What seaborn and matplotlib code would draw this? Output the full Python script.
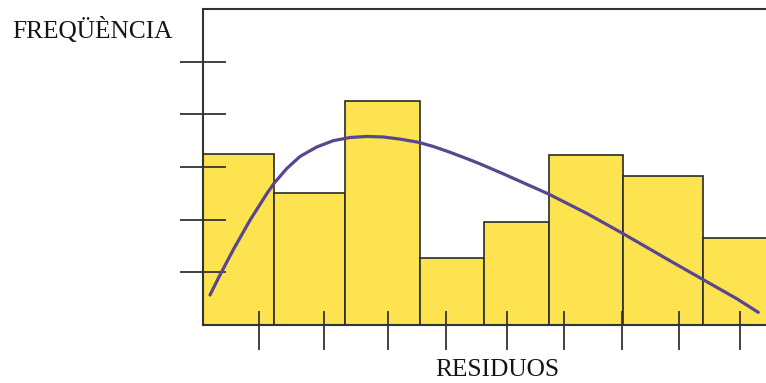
import matplotlib
matplotlib.use("Agg")
import matplotlib.pyplot as plt
import seaborn as sns
import pandas as pd

# Histogram of residuals (class edges and frequencies)
bin_edges = [0.0, 7.1, 14.2, 21.7, 28.1, 34.6, 42.0, 50.0, 57.0]
frequencies = [3.24, 2.50, 4.25, 1.28, 1.96, 3.23, 2.83, 1.65]

# Fitted density curve
curve_x = [0.73, 1.73, 3.06, 4.73, 6.40, 7.13, 8.40, 9.73, 11.40, 13.06,
           14.73, 16.40, 18.06, 19.73, 21.56, 23.06, 24.73, 26.40, 27.73,
           30.06, 34.56, 38.40, 41.90, 46.73, 50.06, 53.40, 55.56]
curve_y = [0.57, 0.95, 1.43, 1.99, 2.49, 2.69, 2.97, 3.20, 3.38, 3.50,
           3.56, 3.58, 3.57, 3.53, 3.47, 3.39, 3.28, 3.16, 3.06,
           2.87, 2.49, 2.12, 1.75, 1.22, 0.86, 0.50, 0.24]

# Axis tick positions
x_ticks = [5.6, 12.1, 18.5, 24.3, 30.4, 36.1, 41.9, 47.6, 53.7]
y_ticks = [1, 2, 3, 4, 5]

x_label = "RESIDUOS"
y_label = "FREQÜÈNCIA"

sns.set_style("white")
plt.rcParams["font.family"] = ["Liberation Serif", "DejaVu Serif"]

W, H = 766, 383
fig = plt.figure(figsize=(W / 100, H / 100), dpi=100)
left_px, bottom_px, top_px = 202.7, 325.0, 9.0
ax = fig.add_axes([left_px / W, (H - bottom_px) / H, 570 / W, (bottom_px - top_px) / H])

centers = [(a + b) / 2 for a, b in zip(bin_edges[:-1], bin_edges[1:])]
hist_df = pd.DataFrame({"x": centers, "w": frequencies})
sns.histplot(data=hist_df, x="x", weights="w", bins=bin_edges, ax=ax,
             color="#FDE34F", alpha=1.0, edgecolor="#2a2a2a", linewidth=1.2)

curve_df = pd.DataFrame({"x": curve_x, "y": curve_y})
sns.lineplot(data=curve_df, x="x", y="y", ax=ax, color="#5A4690",
             linewidth=2.3, sort=False, zorder=5,
             solid_capstyle="round", solid_joinstyle="round")

ax.set_xlim(0, 57)
ax.set_ylim(0, 6)
ax.set_xlabel("")
ax.set_ylabel("")

ax.set_yticks(y_ticks)
ax.set_yticklabels([])
ax.tick_params(axis="y", direction="inout", length=33, width=1.3,
               color="#333333", left=True)

ax.set_xticks(x_ticks)
ax.set_xticks(x_ticks, minor=True)
ax.xaxis.remove_overlapping_locs = False
ax.set_xticklabels([])
ax.tick_params(axis="x", which="major", direction="in", length=10, width=1.3,
               color="#333333", bottom=True)
ax.tick_params(axis="x", which="minor", direction="out", length=18, width=1.3,
               color="#333333", bottom=True)
ax.set_axisbelow(False)

for side in ["left", "top", "bottom"]:
    ax.spines[side].set_visible(True)
    ax.spines[side].set_color("#333333")
    ax.spines[side].set_linewidth(1.5)
ax.spines["right"].set_visible(False)

fig.text(12 / W, 1 - 30 / H, y_label, fontsize=18.3, color="#141414",
         ha="left", va="center")
fig.text(497 / W, 1 - 370 / H, x_label, fontsize=18.3, color="#141414",
         ha="center", va="center")

fig.savefig("out.png", dpi=100)
